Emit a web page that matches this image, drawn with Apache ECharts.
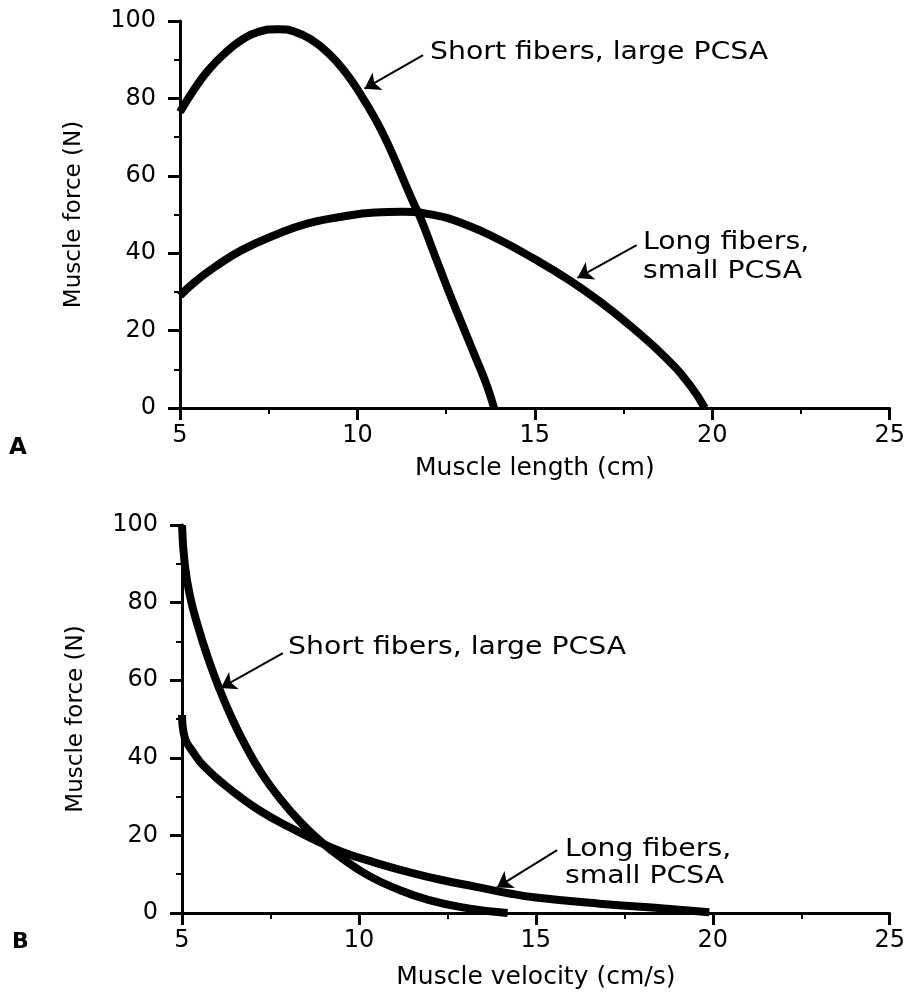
<!DOCTYPE html>
<html>
<head>
<meta charset="utf-8">
<script src="https://cdn.jsdelivr.net/npm/echarts@6/dist/echarts.min.js"></script>
<style>
  html, body { margin: 0; padding: 0; background: #fff; }
  #chart { width: 908px; height: 994px; }
</style>
</head>
<body>
<div id="chart"></div>
<script>
// Panel A: force vs muscle length
const lenShortX = [5, 5.42, 5.8, 6.27, 6.74, 7.21, 7.77, 8.24, 8.71, 9.18, 9.65, 10.07, 10.49, 10.87, 11.24, 11.57, 11.8, 12.14, 12.56, 12.93, 13.31, 13.64, 13.85];
const lenShortY = [76.5, 82.6, 87.3, 91.7, 95.1, 97.2, 97.9, 97.2, 95.1, 91.7, 86.9, 81.3, 74.9, 68, 60.2, 53.2, 48.6, 40.4, 30.4, 22, 13.5, 6, 0];
const lenLongX = [5, 5.42, 5.99, 6.74, 7.68, 8.61, 9.55, 10.49, 11.24, 12.14, 13.08, 14.01, 14.95, 15.89, 16.83, 17.77, 18.71, 19.37, 19.79];
const lenLongY = [29, 32.6, 36.5, 40.8, 44.7, 47.7, 49.4, 50.5, 50.7, 49.9, 47.3, 43.4, 38.7, 33.5, 27.5, 20.6, 12.8, 5.9, 0];

// Panel B: force vs muscle velocity
const velShortX = [5, 5.08, 5.23, 5.46, 5.74, 6.03, 6.4, 6.78, 7.25, 7.82, 8.38, 8.95, 9.51, 10.26, 11.02, 11.96, 13.09, 14.2];
const velShortY = [100, 89.7, 81.5, 73.6, 65.6, 58.4, 50.4, 43.4, 36, 28.9, 23.1, 18.2, 14.2, 9.7, 6.4, 3.4, 1.2, 0];
const velLongX = [5, 5.04, 5.37, 5.74, 6.21, 6.69, 7.25, 7.91, 8.76, 9.51, 10.45, 11.39, 12.34, 13.28, 14.22, 15, 16.8, 18.7, 19.9];
const velLongY = [51, 46.7, 40.7, 36.8, 33, 29.6, 26.1, 22.7, 18.8, 15.8, 13, 10.6, 8.5, 6.8, 5.1, 4, 2.4, 1.1, 0.2];

const shortLabel = "Short fibers, large PCSA";
const longLabel = ["Long fibers,", "small PCSA"];

// arrows: [fromX, fromY, toX, toY] in data units
const arrowA1 = [11.85, 91.2, 10.2, 82.5];
const arrowA2 = [17.87, 42.1, 16.2, 33.6];
const arrowB1 = [7.85, 67, 6.1, 58];
const arrowB2 = [15.6, 16.2, 13.9, 6.6];

const FONT = "DejaVu Sans";
const pairs = (xs, ys) => xs.map((x, i) => [x, ys[i]]);

const chart = echarts.init(document.getElementById("chart"));

const xAxisBase = (idx, name, gap) => ({
  type: "value",
  gridIndex: idx,
  min: 5, max: 25, interval: 5,
  name: name,
  nameLocation: "middle",
  nameGap: gap,
  nameTextStyle: { color: "#000", fontFamily: FONT, fontSize: 25 },
  axisLine: { onZero: false, lineStyle: { color: "#000", width: 3 } },
  axisTick: { length: 12, lineStyle: { color: "#000", width: 3 } },
  minorTick: { show: true, splitNumber: 2, length: 6, lineStyle: { color: "#000", width: 2 } },
  axisLabel: { color: "#000", fontFamily: FONT, fontSize: 24, margin: 16 },
  splitLine: { show: false },
  minorSplitLine: { show: false }
});

const yAxisBase = (idx) => ({
  type: "value",
  gridIndex: idx,
  min: 0, max: 100, interval: 20,
  name: "Muscle force (N)",
  nameLocation: "middle",
  nameGap: 94,
  nameTextStyle: { color: "#000", fontFamily: FONT, fontSize: 23 },
  axisLine: { onZero: false, lineStyle: { color: "#000", width: 3 } },
  axisTick: { length: 12, lineStyle: { color: "#000", width: 3 } },
  minorTick: { show: true, splitNumber: 2, length: 6, lineStyle: { color: "#000", width: 2 } },
  axisLabel: { color: "#000", fontFamily: FONT, fontSize: 24, margin: 24 },
  splitLine: { show: false },
  minorSplitLine: { show: false }
});

const arrowLine = (a) => ({
  silent: true,
  symbol: ["none", "arrow"],
  symbolSize: 15,
  label: { show: false },
  lineStyle: { color: "#000", width: 2, type: "solid" },
  data: [[{ coord: [a[0], a[1]] }, { coord: [a[2], a[3]] }]]
});

const curve = (name, xi, data, arrow) => ({
  name: name,
  type: "line",
  xAxisIndex: xi,
  yAxisIndex: xi,
  data: data,
  smooth: 0.5,
  symbol: "none",
  clip: false,
  lineStyle: { color: "#000", width: 8 },
  markLine: arrowLine(arrow)
});

const textEl = (x, y, txt) => ({
  type: "text",
  x: x, y: y,
  scaleX: 1.18,
  style: { text: txt, fill: "#000", font: "24px '" + FONT + "'", verticalAlign: "middle" }
});

const option = {
  backgroundColor: "#fff",
  animation: false,
  grid: [
    { left: 180, right: 18, top: 21, height: 387 },
    { left: 182, right: 18, top: 525, height: 388 }
  ],
  xAxis: [xAxisBase(0, "Muscle length (cm)", 48), xAxisBase(1, "Muscle velocity (cm/s)", 52)],
  yAxis: [yAxisBase(0), yAxisBase(1)],
  series: [
    curve("A short", 0, pairs(lenShortX, lenShortY), arrowA1),
    curve("A long", 0, pairs(lenLongX, lenLongY), arrowA2),
    curve("B short", 1, pairs(velShortX, velShortY), arrowB1),
    curve("B long", 1, pairs(velLongX, velLongY), arrowB2)
  ],
  graphic: [
    textEl(430, 53, shortLabel),
    textEl(643, 243, longLabel[0]),
    textEl(643, 272, longLabel[1]),
    textEl(288, 648, shortLabel),
    textEl(565, 850, longLabel[0]),
    textEl(565, 877, longLabel[1]),
    { type: "text", x: 9, y: 448, style: { text: "A", fill: "#000", font: "bold 23px '" + FONT + "'", verticalAlign: "middle" } },
    { type: "text", x: 12, y: 942, style: { text: "B", fill: "#000", font: "bold 22px '" + FONT + "'", verticalAlign: "middle" } }
  ]
};

chart.setOption(option);
</script>
</body>
</html>
